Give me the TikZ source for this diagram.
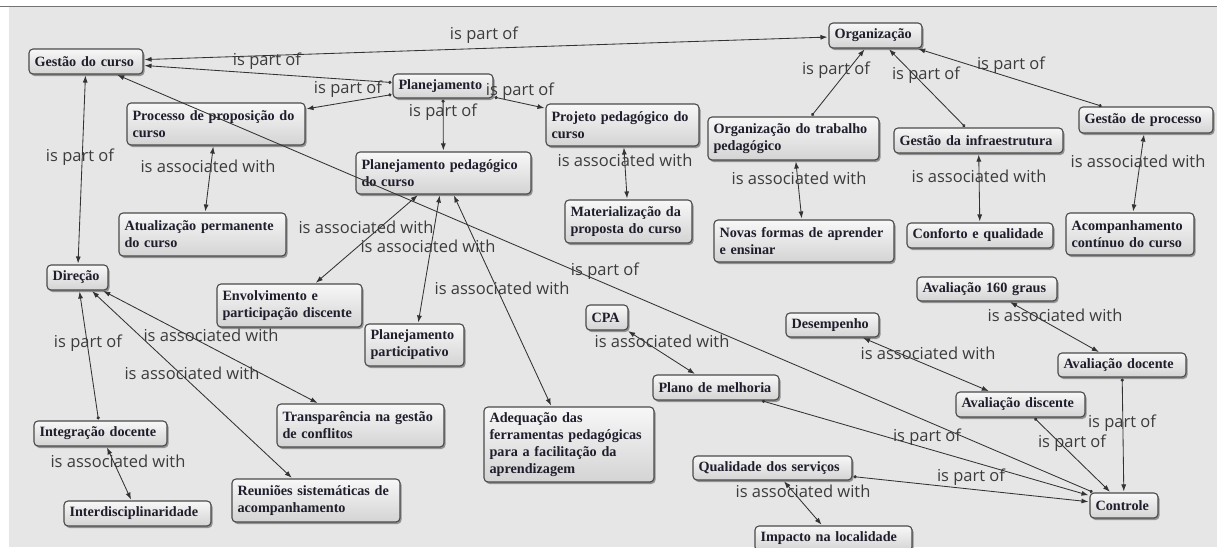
\documentclass[tikz,border=0pt]{standalone}
\usepackage{fontspec}
\setmainfont{Liberation Serif}
\newfontfamily\lblfont{Open Sans}
\usetikzlibrary{arrows.meta,shadows}
\definecolor{bgc}{HTML}{E6E6E6}
\definecolor{framec}{HTML}{4A4A4A}
\definecolor{linec}{HTML}{333333}
\definecolor{lblc}{HTML}{3C3C3C}
\definecolor{txtc}{HTML}{1E1E2C}
\tikzset{
  conceptbox/.style={rectangle, rounded corners=4pt, draw=framec, line width=1.1pt,
    top color=white!94!gray, bottom color=black!17,
    drop shadow={shadow xshift=1.5pt, shadow yshift=-2pt, opacity=0.5, fill=black!75},
    inner xsep=5.5pt, inner ysep=0pt, align=left, text=txtc,
    font=\fontsize{14.2}{17}\selectfont\bfseries},
  link/.style={draw=linec, line width=0.85pt, shorten >=1pt, shorten <=1pt},
  partof/.style={link, arrows={Circle[length=3.2pt]-Latex[length=7pt,width=5pt]}},
  assoc/.style={link, arrows={Latex[length=7pt,width=5pt]-Latex[length=7pt,width=5pt]}},
  lbl/.style={font=\lblfont\fontsize{16.5}{18}\selectfont, text=lblc, inner sep=0pt}
}
% concept box from its corners (x1,y1)-(x2,y2)
\newcommand{\conceptbox}[6]{%
  \pgfmathsetmacro\bcx{(#2+#4)/2}%
  \pgfmathsetmacro\bcy{(#3+#5)/2}%
  \pgfmathsetmacro\bw{#4-#2}%
  \pgfmathsetmacro\bh{#5-#3}%
  \pgfmathsetmacro\tw{#4-#2-11}%
  \node[conceptbox, minimum width=\bw pt, minimum height=\bh pt, text width=\tw pt] (#1) at (\bcx,\bcy) {#6};}

\begin{document}
\begin{tikzpicture}[x=1pt,y=-1pt]
\useasboundingbox (0,0) rectangle (1217,547);
% canvas
\fill[white] (0,0) rectangle (1217,547);
\fill[bgc] (9,7) rectangle (1217,547);
\draw[black!55, line width=1pt] (0,6.5) -- (1217,6.5);

% concepts
\conceptbox{gc}{29}{49}{143}{74}{Gestão~do~curso}
\conceptbox{plan}{393}{74}{493}{98}{Planejamento}
\conceptbox{proc}{127}{103}{305}{145}{Processo~de~proposição~do\\curso}
\conceptbox{ppc}{356}{152}{531}{194}{Planejamento~pedagógico\\do~curso}
\conceptbox{proj}{546}{104}{699}{146}{Projeto~pedagógico~do\\curso}
\conceptbox{org}{829}{23}{922}{48}{Organização}
\conceptbox{otp}{708}{117}{879}{160}{Organização~do~trabalho\\pedagógico}
\conceptbox{infra}{894}{128}{1063}{153}{Gestão~da~infraestrutura}
\conceptbox{gproc}{1079}{107}{1213}{133}{Gestão~de~processo}
\conceptbox{atual}{119}{213}{286}{256}{Atualização~permanente\\do~curso}
\conceptbox{mat}{565}{200}{692}{243}{Materialização~da\\proposta~do~curso}
\conceptbox{novas}{714}{220}{894}{262}{Novas~formas~de~aprender\\e~ensinar}
\conceptbox{conf}{907}{223}{1053}{248}{Conforto~e~qualidade}
\conceptbox{acomp}{1066}{213}{1194}{255}{Acompanhamento\\contínuo~do~curso}
\conceptbox{dir}{47}{265}{108}{290}{Direção}
\conceptbox{env}{217}{284}{362}{327}{Envolvimento~e\\participação~discente}
\conceptbox{pp}{365}{324}{464}{366}{Planejamento\\participativo}
\conceptbox{cpa}{586}{305}{628}{330}{CPA}
\conceptbox{aval160}{917}{277}{1057}{301}{Avaliação~160~graus}
\conceptbox{desemp}{786}{313}{879}{337}{Desempenho}
\conceptbox{adoc}{1058}{353}{1186}{377}{Avaliação~docente}
\conceptbox{plano}{653}{375}{779}{400}{Plano~de~melhoria}
\conceptbox{transp}{277}{404}{444}{447}{Transparência~na~gestão\\de~conflitos}
\conceptbox{adeq}{484}{407}{654}{482}{Adequação~das\\ferramentas~pedagógicas\\para~a~facilitação~da\\aprendizagem}
\conceptbox{integ}{34}{421}{167}{446}{Integração~docente}
\conceptbox{adisc}{956}{392}{1085}{417}{Avaliação~discente}
\conceptbox{qual}{693}{456}{852}{480}{Qualidade~dos~serviços}
\conceptbox{ctrl}{1090}{493}{1158}{518}{Controle}
\conceptbox{interd}{64}{501}{211}{526}{Interdisciplinaridade}
\conceptbox{reun}{232}{479}{400}{522}{Reuniões~sistemáticas~de\\acompanhamento}
\conceptbox{imp}{755}{526}{912}{551}{Impacto~na~localidade}

% "is part of" links
\draw[assoc] (org) -- (gc);
\draw[partof] (plan) -- (gc);
\draw[partof] (plan) -- (proc);
\draw[partof] (plan) -- (proj);
\draw[partof] (plan) -- (ppc);
\draw[assoc] (dir) -- (gc);
\draw[partof] (ctrl) -- (gc);
\draw[partof] (integ) -- (dir);
\draw[partof] (otp) -- (org);
\draw[partof] (infra) -- (org);
\draw[partof] (gproc) -- (org);
\draw[partof] (plano) -- (ctrl);
\draw[partof] (qual) -- (ctrl);
\draw[partof] (adisc) -- (ctrl);
\draw[partof] (adoc) -- (ctrl);

% "is associated with" links
\draw[assoc] (proc) -- (atual);
\draw[assoc] (ppc) -- (env);
\draw[assoc] (ppc) -- (pp);
\draw[assoc] (ppc) -- (adeq);
\draw[assoc] (proj) -- (mat);
\draw[assoc] (otp) -- (novas);
\draw[assoc] (infra) -- (conf);
\draw[assoc] (gproc) -- (acomp);
\draw[assoc] (dir) -- (transp);
\draw[assoc] (dir) -- (reun);
\draw[assoc] (integ) -- (interd);
\draw[assoc] (cpa) -- (plano);
\draw[assoc] (desemp) -- (adisc);
\draw[assoc] (aval160) -- (adoc);
\draw[assoc] (qual) -- (imp);

% link phrases
\foreach \p/\lx/\ly in {a/484/35, b/267/61, c/348/89, d/520/91, e/443/112, f/80/157,
    g/836/70, h/926/75, i/1011/65, j/605/271, k/88/343, l/927/437, m/971/477,
    n/1072/443, o/1122/423}
  \node[lbl] (pof\p) at (\lx,\ly) {is part of};
\foreach \p/\lx/\ly in {a/208/166, b/366/227, c/428/246, d/502/288, e/625/160,
    f/799/178, g/979/176, h/1138/161, i/211/335, j/192/373, k/118/461,
    l/662/341, m/928/353, n/1055/315, o/803/491}
  \node[lbl] (asw\p) at (\lx,\ly) {is associated with};
\end{tikzpicture}
\end{document}
